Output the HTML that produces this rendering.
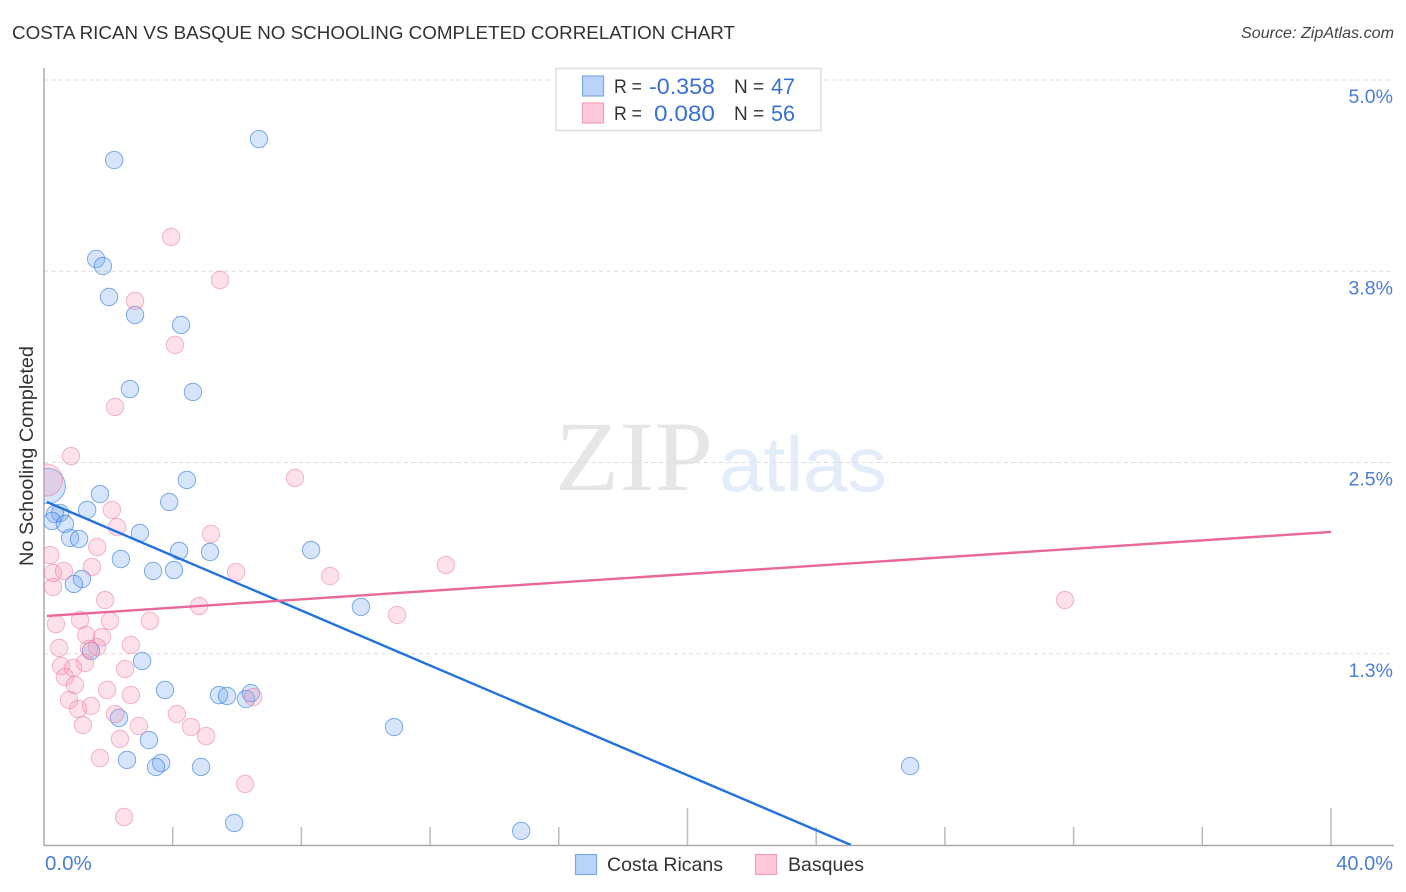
<!DOCTYPE html>
<html lang="en">
<head>
<meta charset="utf-8">
<title>Costa Rican vs Basque No Schooling Completed Correlation Chart</title>
<style>
html,body{margin:0;padding:0;background:#fff;width:1406px;height:892px;overflow:hidden}
svg{display:block;font-family:"Liberation Sans",sans-serif}
</style>
</head>
<body>
<svg id="chart" xmlns="http://www.w3.org/2000/svg" width="1406" height="892" viewBox="0 0 1406 892">
  <defs><clipPath id="plot-clip"><rect x="44" y="60" width="1350" height="785"/></clipPath></defs>
  <text x="12" y="39" font-size="18.5" fill="#333" textLength="723" lengthAdjust="spacingAndGlyphs">COSTA RICAN VS BASQUE NO SCHOOLING COMPLETED CORRELATION CHART</text>
  <text x="1394" y="38" font-size="16" font-style="italic" fill="#444" text-anchor="end" textLength="153" lengthAdjust="spacingAndGlyphs">Source: ZipAtlas.com</text>
  <text x="555" y="490" font-family="'Liberation Serif',serif" font-size="100" fill="#e6e6e6" textLength="158" lengthAdjust="spacingAndGlyphs">ZIP</text>
  <text x="719" y="491" font-size="78" fill="#e3ecf9" textLength="168" lengthAdjust="spacingAndGlyphs">atlas</text>
  <g id="grid"></g>
  <g id="axes"></g>
  <g id="blue-points" clip-path="url(#plot-clip)"></g>
  <g id="pink-points" clip-path="url(#plot-clip)"></g>
  <g id="trends" clip-path="url(#plot-clip)"></g>
  <text transform="translate(33,456) rotate(-90)" font-size="19.5" fill="#333" text-anchor="middle" textLength="220" lengthAdjust="spacingAndGlyphs">No Schooling Completed</text>

  <g>
    <rect x="556" y="68.500" width="265" height="62" fill="#fff" stroke="#ddd" stroke-width="1.500"/>
    <rect x="582.500" y="76" width="21" height="20" fill="#b9d4f8" stroke="#7ba8e6" stroke-width="1.200"/>
    <rect x="582.500" y="103" width="21" height="20" fill="#fdc8da" stroke="#f0a0bb" stroke-width="1.200"/>
    <text x="614" y="93" font-size="19" fill="#333" textLength="28" lengthAdjust="spacingAndGlyphs">R =</text>
    <text x="649" y="94" font-size="22" fill="#3a70d2" textLength="66" lengthAdjust="spacingAndGlyphs">-0.358</text>
    <text x="734" y="93" font-size="19" fill="#333">N =</text>
    <text x="771" y="94" font-size="22" fill="#3a70d2" textLength="24" lengthAdjust="spacingAndGlyphs">47</text>
    <text x="614" y="120" font-size="19" fill="#333" textLength="28" lengthAdjust="spacingAndGlyphs">R =</text>
    <text x="654" y="121" font-size="22" fill="#3a70d2" textLength="61" lengthAdjust="spacingAndGlyphs">0.080</text>
    <text x="734" y="120" font-size="19" fill="#333">N =</text>
    <text x="771" y="121" font-size="22" fill="#3a70d2" textLength="24" lengthAdjust="spacingAndGlyphs">56</text>
  </g>

  <g>
    <rect x="575.500" y="854.500" width="21" height="20" fill="#b9d4f8" stroke="#7ba8e6" stroke-width="1.200"/>
    <text x="607" y="871" font-size="19.5" fill="#333" textLength="116" lengthAdjust="spacingAndGlyphs">Costa Ricans</text>
    <rect x="755.500" y="854.500" width="21" height="20" fill="#fdc8da" stroke="#f0a0bb" stroke-width="1.200"/>
    <text x="788" y="871" font-size="19.5" fill="#333" textLength="76" lengthAdjust="spacingAndGlyphs">Basques</text>
  </g>
</svg>
<script>
const yTickValues = [5.0, 3.75, 2.5, 1.25];
const yTickLabels = ["5.0%", "3.8%", "2.5%", "1.3%"];
const xTickValues = [4, 8, 12, 16, 20, 24, 28, 32, 36, 40];
const xMajorTicks = [20, 40];
const xEndLabels = ["0.0%", "40.0%"];

const costaRicansX = [6.68,2.18,1.62,1.83,2.02,2.83,4.26,2.67,4.63,4.44,1.74,3.89,1.34,0.50,0.34,0.25,0.65,0.81,1.09,2.98,4.20,5.16,8.30,2.39,3.39,4.04,1.18,0.93,9.85,3.05,1.46,3.76,5.44,5.69,6.28,6.43,2.33,10.88,3.26,2.58,3.64,3.48,4.88,26.92,5.91,14.83,0.12];
const costaRicansY = [4.614,4.477,3.830,3.784,3.582,3.464,3.399,2.980,2.961,2.386,2.294,2.242,2.190,2.170,2.163,2.118,2.098,2.007,2.000,2.039,1.922,1.915,1.928,1.869,1.791,1.797,1.739,1.706,1.556,1.203,1.268,1.013,0.980,0.974,0.954,0.993,0.830,0.771,0.686,0.556,0.536,0.510,0.510,0.516,0.144,0.092,2.346];

const basquesX = [0.84,7.80,2.11,2.27,5.19,1.65,0.19,1.49,5.97,0.28,0.62,0.28,1.90,4.82,0.37,1.12,2.05,3.29,1.31,1.80,2.70,0.47,1.65,2.52,1.27,0.53,0.90,0.65,0.96,1.96,2.70,0.78,1.46,1.06,2.21,4.13,4.57,5.04,2.95,1.21,2.36,1.74,6.25,2.49,6.50,3.95,5.47,2.83,4.07,2.21,8.89,12.49,10.97,31.73,1.40,0.08];
const basquesY = [2.542,2.399,2.190,2.078,2.033,1.948,1.895,1.817,1.784,1.778,1.791,1.686,1.601,1.562,1.444,1.471,1.464,1.464,1.373,1.359,1.307,1.288,1.294,1.150,1.190,1.170,1.157,1.098,1.046,1.013,0.980,0.948,0.909,0.889,0.856,0.856,0.771,0.712,0.778,0.784,0.693,0.569,0.399,0.183,0.967,3.974,3.693,3.556,3.268,2.863,1.758,1.830,1.503,1.601,1.281,2.386];

const costaTrendX = [0.09, 25.08];
const costaTrendY = [2.242, 0];
const basquesTrendX = [0.09, 40];
const basquesTrendY = [1.497, 2.046];

const NS = 'http://www.w3.org/2000/svg';
function sx(v) { return 44 + v * (1331 - 44) / 40; }
function sy(v) { return 845 - v * 153; }

function make(tag, attrs, parent, text) {
  const el = document.createElementNS(NS, tag);
  for (const k in attrs) el.setAttribute(k, attrs[k]);
  if (text !== undefined) el.textContent = text;
  parent.appendChild(el);
  return el;
}

const gridG = document.getElementById('grid');
const axesG = document.getElementById('axes');

yTickValues.forEach(function (v, i) {
  const line = make('line', {x1: 44, x2: 1394, y1: sy(v), y2: sy(v), stroke: '#dcdcdc', 'stroke-width': 1, 'stroke-dasharray': '4 3.5'}, gridG);
  
  
  const label = make('text', {x: 1393, y: sy(v) + 23, 'font-size': 19.5, fill: '#4a7ed6', 'text-anchor': 'end'}, axesG, yTickLabels[i]);
  
  
});

const yAxis = make('line', {x1: 44, x2: 44, y1: 68, y2: 846, stroke: '#aaa', 'stroke-width': 1.5}, axesG);


const xAxis = make('line', {x1: 44, x2: 1394, y1: 845.5, y2: 845.5, stroke: '#aaa', 'stroke-width': 1.5}, axesG);



xTickValues.forEach(function (v) {
  const top = xMajorTicks.indexOf(v) >= 0 ? 808 : 827;
  const tick = make('line', {x1: sx(v), x2: sx(v), y1: top, y2: 845, stroke: '#bbb', 'stroke-width': 1.5}, axesG);
  
  
});

const xStart = make('text', {x: 45, y: 870, 'font-size': 20.5, fill: '#4a7ed6'}, axesG, xEndLabels[0]);


const xEnd = make('text', {x: 1393, y: 870, 'font-size': 20, fill: '#4a7ed6', 'text-anchor': 'end'}, axesG, xEndLabels[1]);



function drawPoints(groupId, xs, ys, fill, stroke, bigRadius, name) {
  const g = document.getElementById(groupId);
  xs.forEach(function (x, i) {
    const r = i === xs.length - 1 ? bigRadius : 8.7;
    const c = make('circle', {cx: sx(x), cy: sy(ys[i]), r: r, fill: fill, stroke: stroke, 'stroke-width': 1}, g);
    
    
  });
}
drawPoints('blue-points', costaRicansX, costaRicansY, 'rgba(120,170,240,0.3)', 'rgba(50,120,220,0.6)', 17.5, 'costa-ricans-point');
drawPoints('pink-points', basquesX, basquesY, 'rgba(245,155,185,0.3)', 'rgba(235,115,155,0.5)', 16, 'basques-point');

const trendsG = document.getElementById('trends');
const t1 = make('line', {x1: sx(costaTrendX[0]), y1: sy(costaTrendY[0]), x2: sx(costaTrendX[1]), y2: sy(costaTrendY[1]), stroke: '#2272dc', 'stroke-width': 2.4}, trendsG);


const t2 = make('line', {x1: sx(basquesTrendX[0]), y1: sy(basquesTrendY[0]), x2: sx(basquesTrendX[1]), y2: sy(basquesTrendY[1]), stroke: '#e8689a', 'stroke-width': 2.4}, trendsG);


</script>
</body>
</html>
